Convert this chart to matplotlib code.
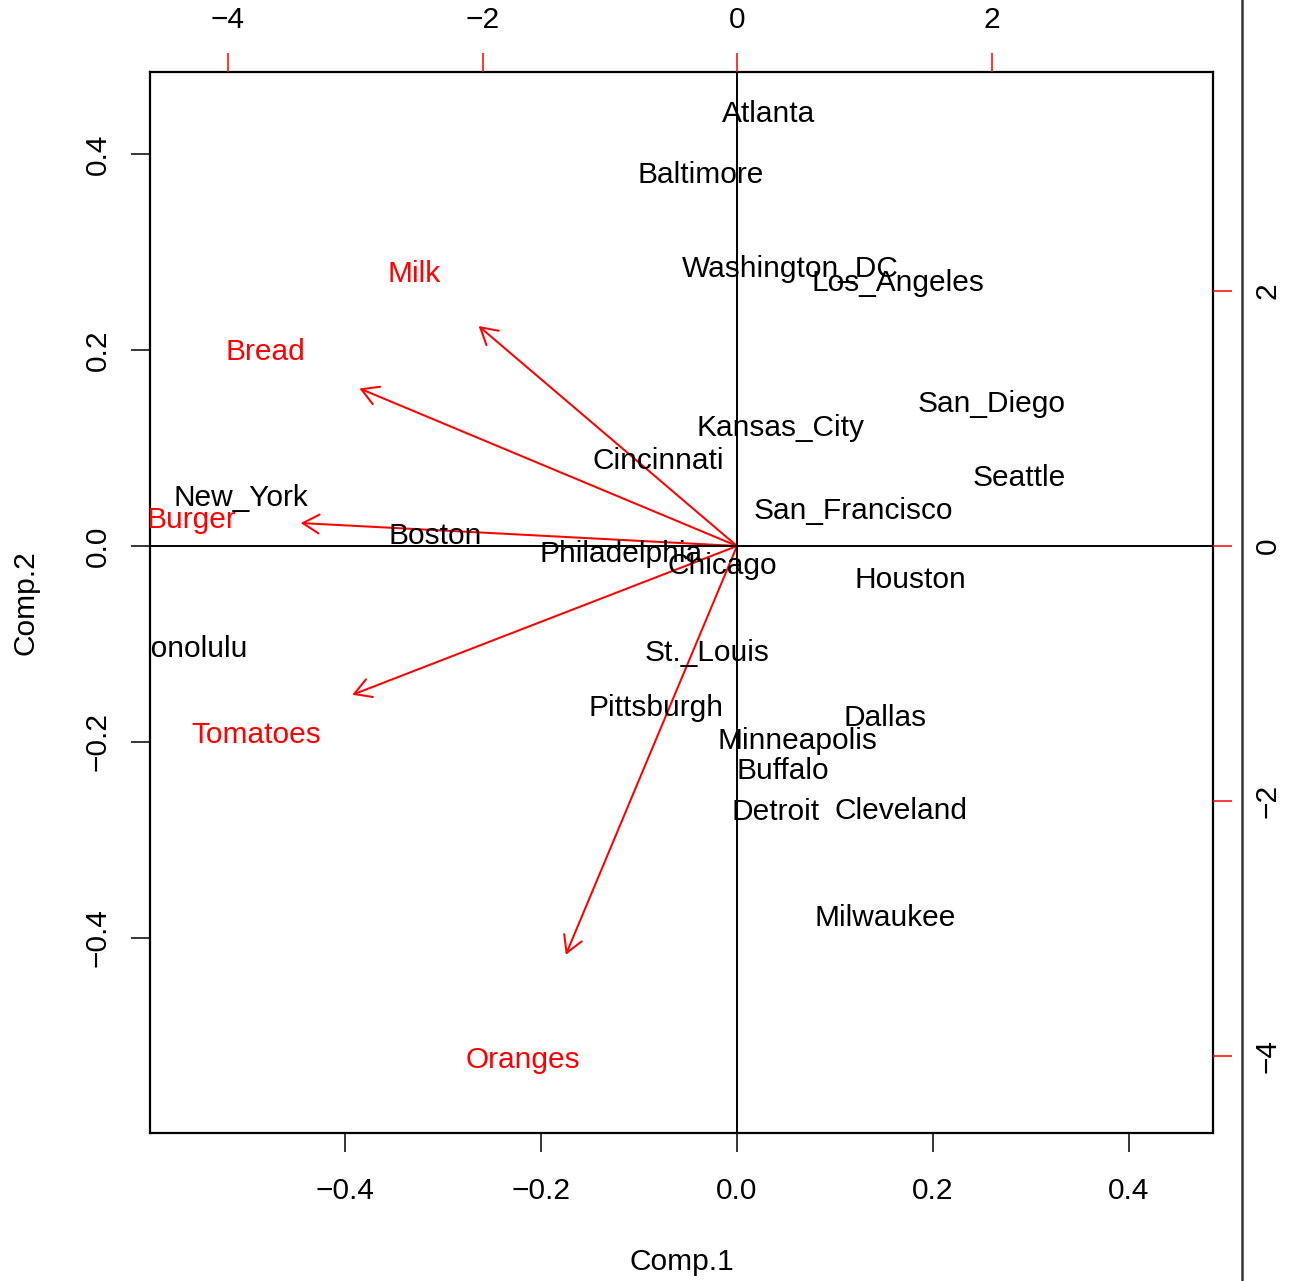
import matplotlib
matplotlib.use("Agg")
import matplotlib.pyplot as plt
from matplotlib.patches import FancyArrowPatch, ArrowStyle
from matplotlib.lines import Line2D

plt.rcParams['font.family'] = ['Liberation Sans', 'DejaVu Sans']

# Principal component scores for each city (Comp.1, Comp.2)
cities = ["Atlanta", "Baltimore", "Washington_DC", "Los_Angeles", "San_Diego",
          "Kansas_City", "Cincinnati", "Seattle", "New_York", "San_Francisco",
          "Boston", "Philadelphia", "Chicago", "Houston", "Honolulu",
          "St._Louis", "Pittsburgh", "Dallas", "Minneapolis", "Buffalo",
          "Detroit", "Cleveland", "Milwaukee"]
score1 = [0.244, -0.291, 0.416, 1.257, 1.995,
          0.338, -0.621, 2.215, -3.896, 0.911,
          -2.372, -0.911, -0.118, 1.359, -4.304,
          -0.236, -0.636, 1.163, 0.471, 0.361,
          0.299, 1.288, 1.163]
score2 = [3.409, 2.930, 2.200, 2.090, 1.139,
          0.951, 0.691, 0.558, 0.401, 0.299,
          0.102, -0.039, -0.134, -0.244, -0.786,
          -0.817, -1.249, -1.328, -1.508, -1.744,
          -2.066, -2.058, -2.891]

# Variable loadings
variables = ["Bread", "Burger", "Milk", "Oranges", "Tomatoes"]
load1 = [-0.4816, -0.5565, -0.3296, -0.2184, -0.4908]
load2 = [0.2010, 0.0293, 0.2806, -0.5214, -0.1898]

W, H = 1297, 1281
fig = plt.figure(figsize=(W / 100, H / 100), dpi=100)
rect = [150 / W, (H - 1133) / H, 1063 / W, 1061 / H]
FS = 21.5

# Loadings axes (bottom / left)
ax = fig.add_axes(rect)
ax.set_xlim(-0.599, 0.4857)
ax.set_ylim(-0.599, 0.4837)
for s in ax.spines.values():
    s.set_linewidth(1.6)
ax.set_xticks([-0.4, -0.2, 0.0, 0.2, 0.4])
ax.set_yticks([-0.4, -0.2, 0.0, 0.2, 0.4])
ax.set_xticklabels(["\u22120.4", "\u22120.2", "0.0", "0.2", "0.4"])
ax.set_yticklabels(["\u22120.4", "\u22120.2", "0.0", "0.2", "0.4"])
ax.tick_params(axis='both', length=13.7, width=1.1, labelsize=FS, pad=14)
ax.tick_params(axis='x', pad=18.3)
ax.tick_params(axis='y', labelrotation=90)
for lab in ax.get_yticklabels():
    lab.set_va('center')
ax.set_xlabel("Comp.1", fontsize=FS, labelpad=31)
ax.set_ylabel("Comp.2", fontsize=FS, labelpad=31.6)
ax.axhline(0, color='black', lw=1.4)
ax.axvline(0, color='black', lw=1.4)

head = ArrowStyle('->', head_length=11.8, head_width=6.8)
for name, a, b in zip(variables, load1, load2):
    arr = FancyArrowPatch((0, 0), (0.8 * a, 0.8 * b), arrowstyle=head,
                          mutation_scale=1, color='red', lw=1.45,
                          shrinkA=0, shrinkB=0)
    ax.add_patch(arr)
    ax.text(a, b, name, color='red', fontsize=FS, ha='center',
            va='center_baseline', clip_on=True)

# Scores axes (top / right)
ax2 = fig.add_axes(rect, frameon=False)
ax2.patch.set_visible(False)
ax2.set_xlim(-4.610, 3.734)
ax2.set_ylim(-4.604, 3.718)
ax2.xaxis.tick_top()
ax2.yaxis.tick_right()
ax2.set_xticks([-4, -2, 0, 2])
ax2.set_yticks([-4, -2, 0, 2])
ax2.set_xticklabels(["\u22124", "\u22122", "0", "2"])
ax2.set_yticklabels(["\u22124", "\u22122", "0", "2"])
ax2.tick_params(axis='both', length=13.7, width=1.1, color='red',
                labelcolor='black', labelsize=FS, pad=14)
ax2.tick_params(axis='y', labelrotation=90, pad=15.5)
for lab in ax2.get_yticklabels():
    lab.set_va('center')

for name, x, y in zip(cities, score1, score2):
    ax2.text(x, y, name, color='black', fontsize=FS, ha='center',
             va='center_baseline', clip_on=True)

fig.add_artist(Line2D([1242 / W, 1242 / W], [0, 1], transform=fig.transFigure,
                      color='#333333', lw=1.8))

fig.savefig("out.png", dpi=100)
